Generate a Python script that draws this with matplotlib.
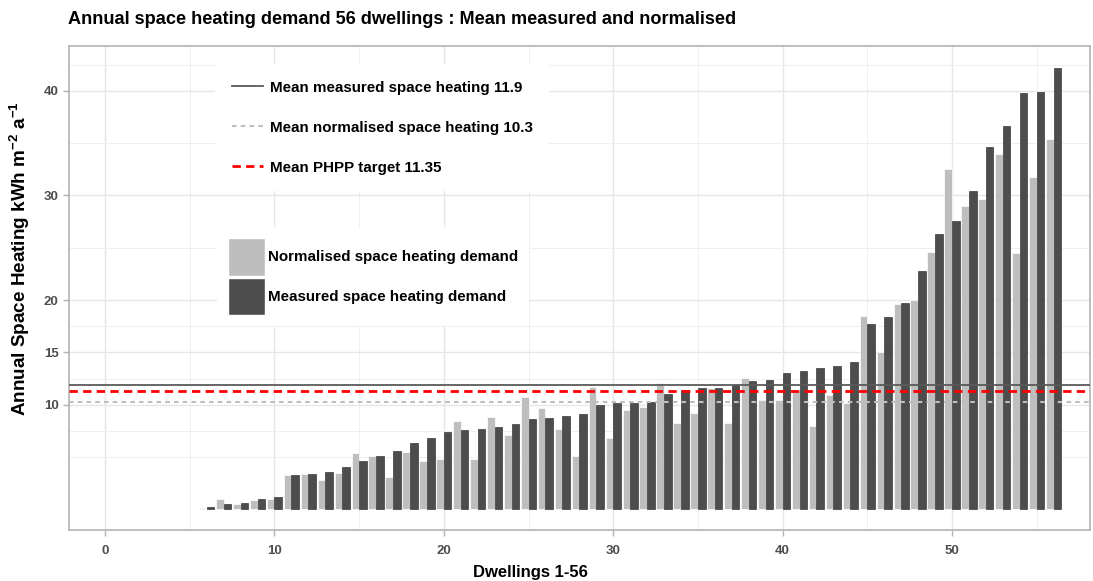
import numpy as np
import matplotlib
matplotlib.use("Agg")
import matplotlib.pyplot as plt
from matplotlib.lines import Line2D
from matplotlib.patches import Patch

plt.rcParams['font.family'] = ['Liberation Sans', 'DejaVu Sans']
plt.rcParams['font.weight'] = 'bold'
plt.rcParams['mathtext.fontset'] = 'custom'
plt.rcParams['mathtext.rm'] = 'Liberation Sans:bold'
plt.rcParams['mathtext.bf'] = 'Liberation Sans:bold'
plt.rcParams['mathtext.default'] = 'bf'

# dwellings 1-56, sorted by measured demand (dwellings 1-5 are zero)
dwelling = np.arange(1, 57)
measured = [0, 0, 0, 0, 0,
            0.2, 0.5, 0.6, 1.0, 1.15,
            3.25, 3.4, 3.53, 4.08, 4.65,
            5.13, 5.57, 6.37, 6.85, 7.4,
            7.58, 7.7, 7.9, 8.15, 8.64,
            8.7, 8.88, 9.1, 10.0, 10.12,
            10.12, 10.28, 11.0, 11.37, 11.63,
            11.63, 11.85, 12.27, 12.36, 13.03,
            13.2, 13.5, 13.7, 14.1, 17.74,
            18.4, 19.69, 22.8, 26.28, 27.6,
            30.45, 34.6, 36.66, 39.78, 39.88,
            42.14]
normalised = [0, 0, 0, 0, 0,
              0.1, 1.0, 0.5, 0.9, 1.02,
              3.25, 3.4, 2.77, 3.47, 5.38,
              5.1, 3.12, 5.5, 4.65, 4.78,
              8.4, 4.78, 8.86, 7.1, 10.7,
              9.68, 7.67, 5.13, 11.68, 6.81,
              9.49, 9.74, 12.06, 8.24, 9.2,
              11.6, 8.27, 12.55, 10.4, 10.47,
              11.36, 8.0, 10.96, 10.2, 18.5,
              15.06, 19.6, 20.0, 24.56, 32.55,
              28.96, 29.65, 33.98, 24.52, 31.79,
              35.39]
mean_measured = 11.9
mean_normalised = 10.3
phpp_target = 11.35

light = '#BEBEBE'
dark = '#4D4D4D'

fig = plt.figure(figsize=(10.93, 5.81), dpi=100)
axes = fig.add_axes([69/1093, 1-530/581, (1090-69)/1093, (530-46)/581])

# grid
for x in range(0, 60, 10):
    axes.axvline(x, color='#E6E6E6', lw=1.0, zorder=0)
for x in range(5, 60, 10):
    axes.axvline(x, color='#EFEFEF', lw=0.7, zorder=0)
for y in [10, 15, 20, 30, 40]:
    axes.axhline(y, color='#E6E6E6', lw=1.0, zorder=0)
for y in [5, 7.5, 12.5, 17.5, 25, 35, 42.5]:
    axes.axhline(y, color='#EFEFEF', lw=0.7, zorder=0)

w = 0.45
norm_arr = np.array(normalised)
meas_arr = np.array(measured)
keep_n = norm_arr > 0
keep_m = meas_arr > 0
axes.bar(dwelling[keep_n] - w/2, norm_arr[keep_n], width=w, color=light, edgecolor='white', lw=0.5, zorder=2)
axes.bar(dwelling[keep_m] + w/2, meas_arr[keep_m], width=w, color=dark, edgecolor='#3A3A3A', lw=0.5, zorder=2)

axes.axhline(mean_measured, color='#5A5A5A', lw=1.3, zorder=3)
axes.axhline(mean_normalised, color=light, lw=1.5, linestyle=(0, (2.2, 2.0)), zorder=3)
axes.axhline(phpp_target, color='#FF0000', lw=2.0, linestyle=(0, (3.0, 1.9)), zorder=3)

axes.set_xlim(-2.13, 58.15)
axes.set_ylim(-1.98, 44.28)
axes.set_xticks([0, 10, 20, 30, 40, 50])
axes.set_yticks([10, 15, 20, 30, 40])
axes.tick_params(colors='#B3B3B3', labelcolor='#4D4D4D', labelsize=9.5, length=4, width=1)
axes.tick_params(axis='x', pad=6.5)
for s in axes.spines.values():
    s.set_color('#B3B3B3')
    s.set_linewidth(1.2)

fig.text(68/1093, 1-20/581, "Annual space heating demand 56 dwellings : Mean measured and normalised",
         fontsize=13.1, fontweight='bold', ha='left', va='center')
fig.text(530/1093, 1-572/581, "Dwellings 1-56", fontsize=12, fontweight='bold', ha='center', va='center')
fig.text(20/1093, 1-259/581, r"Annual Space Heating kWh m$^{-2}$ a$^{-1}$", fontsize=13.6,
         fontweight='bold', rotation=90, ha='center', va='center')

fs = 10.9
line_handles = [Line2D([], [], color='#5A5A5A', lw=1.3),
                Line2D([], [], color=light, lw=1.5, linestyle=(0, (2.2, 2.0))),
                Line2D([], [], color='#FF0000', lw=2.0, linestyle=(0, (3.0, 1.9)))]
line_labels = ["Mean measured space heating 11.9",
               "Mean normalised space heating 10.3",
               "Mean PHPP target 11.35"]
leg1 = axes.legend(line_handles, line_labels, loc='upper left',
                   bbox_to_anchor=((215-69)/1021, (530-64)/484),
                   prop={'size': fs, 'weight': 'bold'}, frameon=True, fancybox=False,
                   facecolor='white', edgecolor='none', framealpha=1,
                   handlelength=2.1, handletextpad=0.4, labelspacing=1.72, borderpad=1.1,
                   borderaxespad=0)
leg1.set_zorder(5)
axes.add_artist(leg1)

fill_handles = [Patch(facecolor=light, edgecolor='white'),
                Patch(facecolor=dark, edgecolor='white')]
fill_labels = ["Normalised space heating demand", "Measured space heating demand"]
leg2 = axes.legend(fill_handles, fill_labels, loc='upper left',
                   bbox_to_anchor=((217-69)/1021, (530-227)/484),
                   prop={'size': fs, 'weight': 'bold'}, frameon=True, fancybox=False,
                   facecolor='white', edgecolor='none', framealpha=1,
                   handlelength=2.4, handleheight=3.4, handletextpad=0.2, labelspacing=0.15,
                   borderpad=0.75, borderaxespad=0)
leg2.set_zorder(5)

fig.savefig("out.png", dpi=100)
